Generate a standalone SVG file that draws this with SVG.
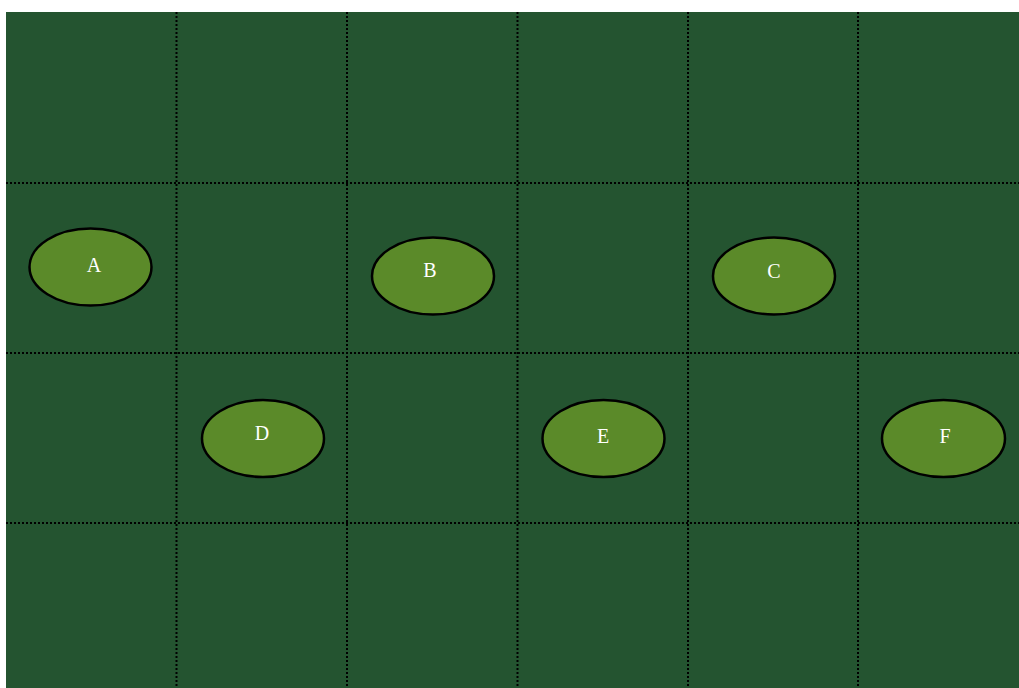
<svg xmlns="http://www.w3.org/2000/svg" width="1019" height="688" viewBox="0 0 1019 688">
<style>
.grid{stroke:#000;stroke-width:2;stroke-dasharray:2 2;fill:none}
.node ellipse{fill:#5b8a29;stroke:#000;stroke-width:2.5}
.node text{font-family:"Liberation Serif",serif;font-size:20px;fill:#fff;text-anchor:middle;dominant-baseline:central}
</style>
<rect x="0" y="0" width="1019" height="688" fill="#fff"/>
<rect x="6" y="12" width="1013" height="676" fill="#245430"/>
<g id="grid">
<line class="grid" x1="176.5" y1="12" x2="176.5" y2="688"/>
<line class="grid" x1="347" y1="12" x2="347" y2="688"/>
<line class="grid" x1="517.5" y1="12" x2="517.5" y2="688"/>
<line class="grid" x1="688" y1="12" x2="688" y2="688"/>
<line class="grid" x1="858" y1="12" x2="858" y2="688"/>
<line class="grid" x1="6" y1="183" x2="1019" y2="183"/>
<line class="grid" x1="6" y1="353" x2="1019" y2="353"/>
<line class="grid" x1="6" y1="523" x2="1019" y2="523"/>
</g>
<g id="connectors"></g>
<g id="A" class="node"><ellipse cx="90.5" cy="267" rx="61" ry="38.5"/><text x="94" y="265">A</text></g>
<g id="B" class="node"><ellipse cx="433" cy="276" rx="61" ry="38.5"/><text x="430" y="270">B</text></g>
<g id="C" class="node"><ellipse cx="774" cy="276" rx="61" ry="38.5"/><text x="774" y="271">C</text></g>
<g id="D" class="node"><ellipse cx="263" cy="438.5" rx="61" ry="38.5"/><text x="262" y="433">D</text></g>
<g id="E" class="node"><ellipse cx="603.5" cy="438.5" rx="61" ry="38.5"/><text x="603" y="436">E</text></g>
<g id="F" class="node"><ellipse cx="943.5" cy="438.5" rx="61.5" ry="38.5"/><text x="945" y="436">F</text></g>
</svg>
